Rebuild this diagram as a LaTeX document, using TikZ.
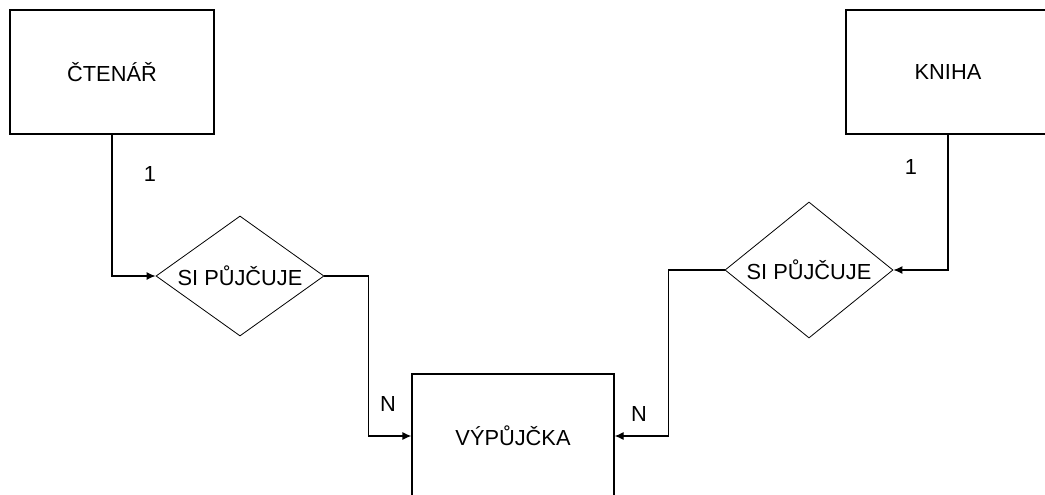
\documentclass[tikz,border=0pt]{standalone}
\usepackage{fontspec}
\setmainfont{Liberation Sans}
\usepackage{tikz}
\usetikzlibrary{arrows.meta,positioning,shapes.geometric}

\begin{document}
\begin{tikzpicture}[x=1pt, y=-1pt,
  ent/.style={draw, line width=1.2pt, minimum width=204pt, minimum height=124pt, inner sep=0pt, font=\fontsize{21.8}{25}\selectfont},
  rel/.style={draw, diamond, aspect=1.4, line width=0.8pt, minimum width=168pt, minimum height=120pt, inner sep=0pt, font=\fontsize{21.8}{25}\selectfont},
  card/.style={font=\fontsize{21.8}{25}\selectfont, inner sep=0pt},
  conn/.style={line width=1.2pt, -{Latex[length=9pt,width=8pt]}}]
  \useasboundingbox (0,0) rectangle (1045,495);
  \node[ent] (ctenar) at (112,72) {ČTENÁŘ};
  \node[ent] (kniha) at (948,72) {KNIHA};
  \node[ent, minimum width=202pt] (vyp) at (513,436) {VÝPŮJČKA};
  \node[rel] (relL) at (240,276) {SI PŮJČUJE};
  \node[rel, minimum height=136pt] (relR) at (809,270) {SI PŮJČUJE};
  \draw[conn] (ctenar.south) |- (relL.west);
  \draw[conn] (relL.east) -- ++(44,0) |- (vyp.west);
  \draw[conn] (kniha.south) |- (relR.east);
  \draw[conn] (relR.west) -- ++(-56,0) |- (vyp.east);
  \node[card] (oneL) at (150,174) {1};
  \node[card] (oneR) at (911,167) {1};
  \node[card] (manyL) at (388,404) {N};
  \node[card] (manyR) at (639,414) {N};
\end{tikzpicture}
\end{document}
